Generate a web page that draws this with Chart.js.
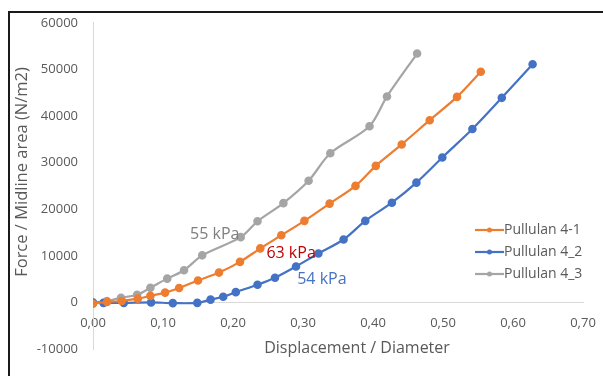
<!DOCTYPE html>
<html>
<head>
<meta charset="utf-8">
<script src="https://cdn.jsdelivr.net/npm/chart.js@4/dist/chart.umd.min.js"></script>
<style>
  html, body { margin: 0; padding: 0; background: #fff; }
  #wrap { position: relative; width: 603px; height: 376px; }
  #frame { position: absolute; left: 8px; top: 11px; right: 0; bottom: 0;
           border-top: 2px solid #1a1a1a; border-left: 2px solid #1a1a1a; pointer-events: none; }
</style>
</head>
<body>
<div id="wrap">
  <canvas id="chart" width="603" height="376"></canvas>
  <div id="frame"></div>
</div>
<script>
// data
const seriesNames = ['Pullulan 4-1', 'Pullulan 4_2', 'Pullulan 4_3'];

const x41 = [0.0, 0.02, 0.041, 0.064, 0.082, 0.103, 0.123, 0.150, 0.180, 0.210, 0.239, 0.269, 0.302, 0.338, 0.375, 0.404, 0.441, 0.481, 0.520, 0.554];
const y41 = [-300, 100, 300, 800, 1400, 2100, 3100, 4700, 6400, 8700, 11600, 14400, 17500, 21200, 25000, 29300, 33900, 39100, 44100, 49500];

const x42 = [0.0, 0.015, 0.044, 0.083, 0.114, 0.149, 0.168, 0.186, 0.204, 0.235, 0.260, 0.290, 0.322, 0.358, 0.389, 0.427, 0.462, 0.499, 0.542, 0.584, 0.628];
const y42 = [-100, -100, -100, 0, -150, -100, 600, 1200, 2200, 3800, 5300, 7700, 10500, 13500, 17500, 21400, 25700, 31100, 37200, 43900, 51100];

const x43 = [0.0, 0.02, 0.04, 0.063, 0.082, 0.106, 0.13, 0.156, 0.211, 0.235, 0.272, 0.308, 0.339, 0.395, 0.420, 0.463];
const y43 = [0, 300, 1000, 1650, 3150, 5100, 6900, 10100, 14000, 17400, 21300, 26100, 32000, 37800, 44200, 53400];

// text labels on the curves (data coords)
const noteText = ['55 kPa', '63 kPa', '54 kPa'];
const noteX = [0.174, 0.283, 0.327];
const noteY = [14500, 10500, 4900];
const noteColor = ['#7f7f7f', '#c00000', '#4472c4'];

const colors = ['#ed7d31', '#4472c4', '#a5a5a5'];
const textColor = '#595959';
const fontFamily = "'Open Sans', 'Noto Sans', sans-serif";

function pts(xs, ys) {
  return xs.map((x, i) => ({ x: x, y: ys[i] }));
}

const datasets = [pts(x41, y41), pts(x42, y42), pts(x43, y43)].map((data, i) => ({
  label: seriesNames[i],
  data: data,
  borderColor: colors[i],
  backgroundColor: colors[i],
  borderWidth: 2.2,
  pointRadius: 3.2,
  pointHoverRadius: 3.2,
  tension: 0.3,
  fill: false
}));

// axis titles, notes and legend
const extras = {
  id: 'extras',
  afterDraw(chart) {
    const ctx = chart.ctx;
    const xs = chart.scales.x, ys = chart.scales.y;
    ctx.save();

    ctx.fillStyle = textColor;
    ctx.textAlign = 'center';
    ctx.textBaseline = 'middle';
    ctx.font = '16px ' + fontFamily;
    ctx.fillText('Displacement / Diameter', 357, ys.getPixelForValue(-10000) - 1);

    ctx.save();
    ctx.translate(22, 172);
    ctx.rotate(-Math.PI / 2);
    ctx.font = '16.5px ' + fontFamily;
    ctx.fillText('Force / Midline area (N/m2)', 0, 0);
    ctx.restore();

    ctx.font = '16px ' + fontFamily;
    noteText.forEach((t, i) => {
      ctx.fillStyle = noteColor[i];
      ctx.fillText(t, xs.getPixelForValue(noteX[i]), ys.getPixelForValue(noteY[i]));
    });

    // legend
    ctx.font = '14px ' + fontFamily;
    ctx.textAlign = 'left';
    const lx = 475, ly = 230;
    seriesNames.forEach((name, i) => {
      const y = ly + i * 22;
      ctx.strokeStyle = colors[i];
      ctx.lineWidth = 2.2;
      ctx.beginPath();
      ctx.moveTo(lx, y);
      ctx.lineTo(lx + 29, y);
      ctx.stroke();
      ctx.fillStyle = colors[i];
      ctx.beginPath();
      ctx.arc(lx + 14.5, y, 2.5, 0, Math.PI * 2);
      ctx.fill();
      ctx.fillStyle = textColor;
      ctx.fillText(name, lx + 29, y);
    });
    ctx.restore();
  }
};

new Chart(document.getElementById('chart'), {
  type: 'line',
  data: { datasets: datasets },
  options: {
    responsive: false,
    animation: false,
    layout: { padding: { left: 0, right: 20, top: 21, bottom: 27 } },
    plugins: { legend: { display: false }, tooltip: { enabled: false } },
    scales: {
      x: {
        type: 'linear',
        position: { y: 0 },
        min: 0, max: 0.7,
        afterFit(s) { s.height = 0; s.paddingLeft = 0; s.paddingRight = 0; },
        grid: { display: false, drawTicks: false },
        border: { display: true, color: '#d9d9d9', width: 1 },
        ticks: {
          stepSize: 0.1,
          padding: 13,
          color: textColor,
          font: { family: fontFamily, size: 13 },
          maxRotation: 0,
          autoSkip: false,
          callback: v => v.toFixed(2).replace('.', ',')
        }
      },
      y: {
        type: 'linear',
        min: -10000, max: 60000,
        afterFit(s) { s.width = 93; },
        grid: { display: false, drawTicks: false },
        border: { display: true, color: '#d9d9d9', width: 1 },
        ticks: {
          stepSize: 10000,
          padding: 15,
          color: textColor,
          font: { family: fontFamily, size: 13 },
          callback: v => String(v)
        }
      }
    }
  },
  plugins: [extras]
});
</script>
</body>
</html>
